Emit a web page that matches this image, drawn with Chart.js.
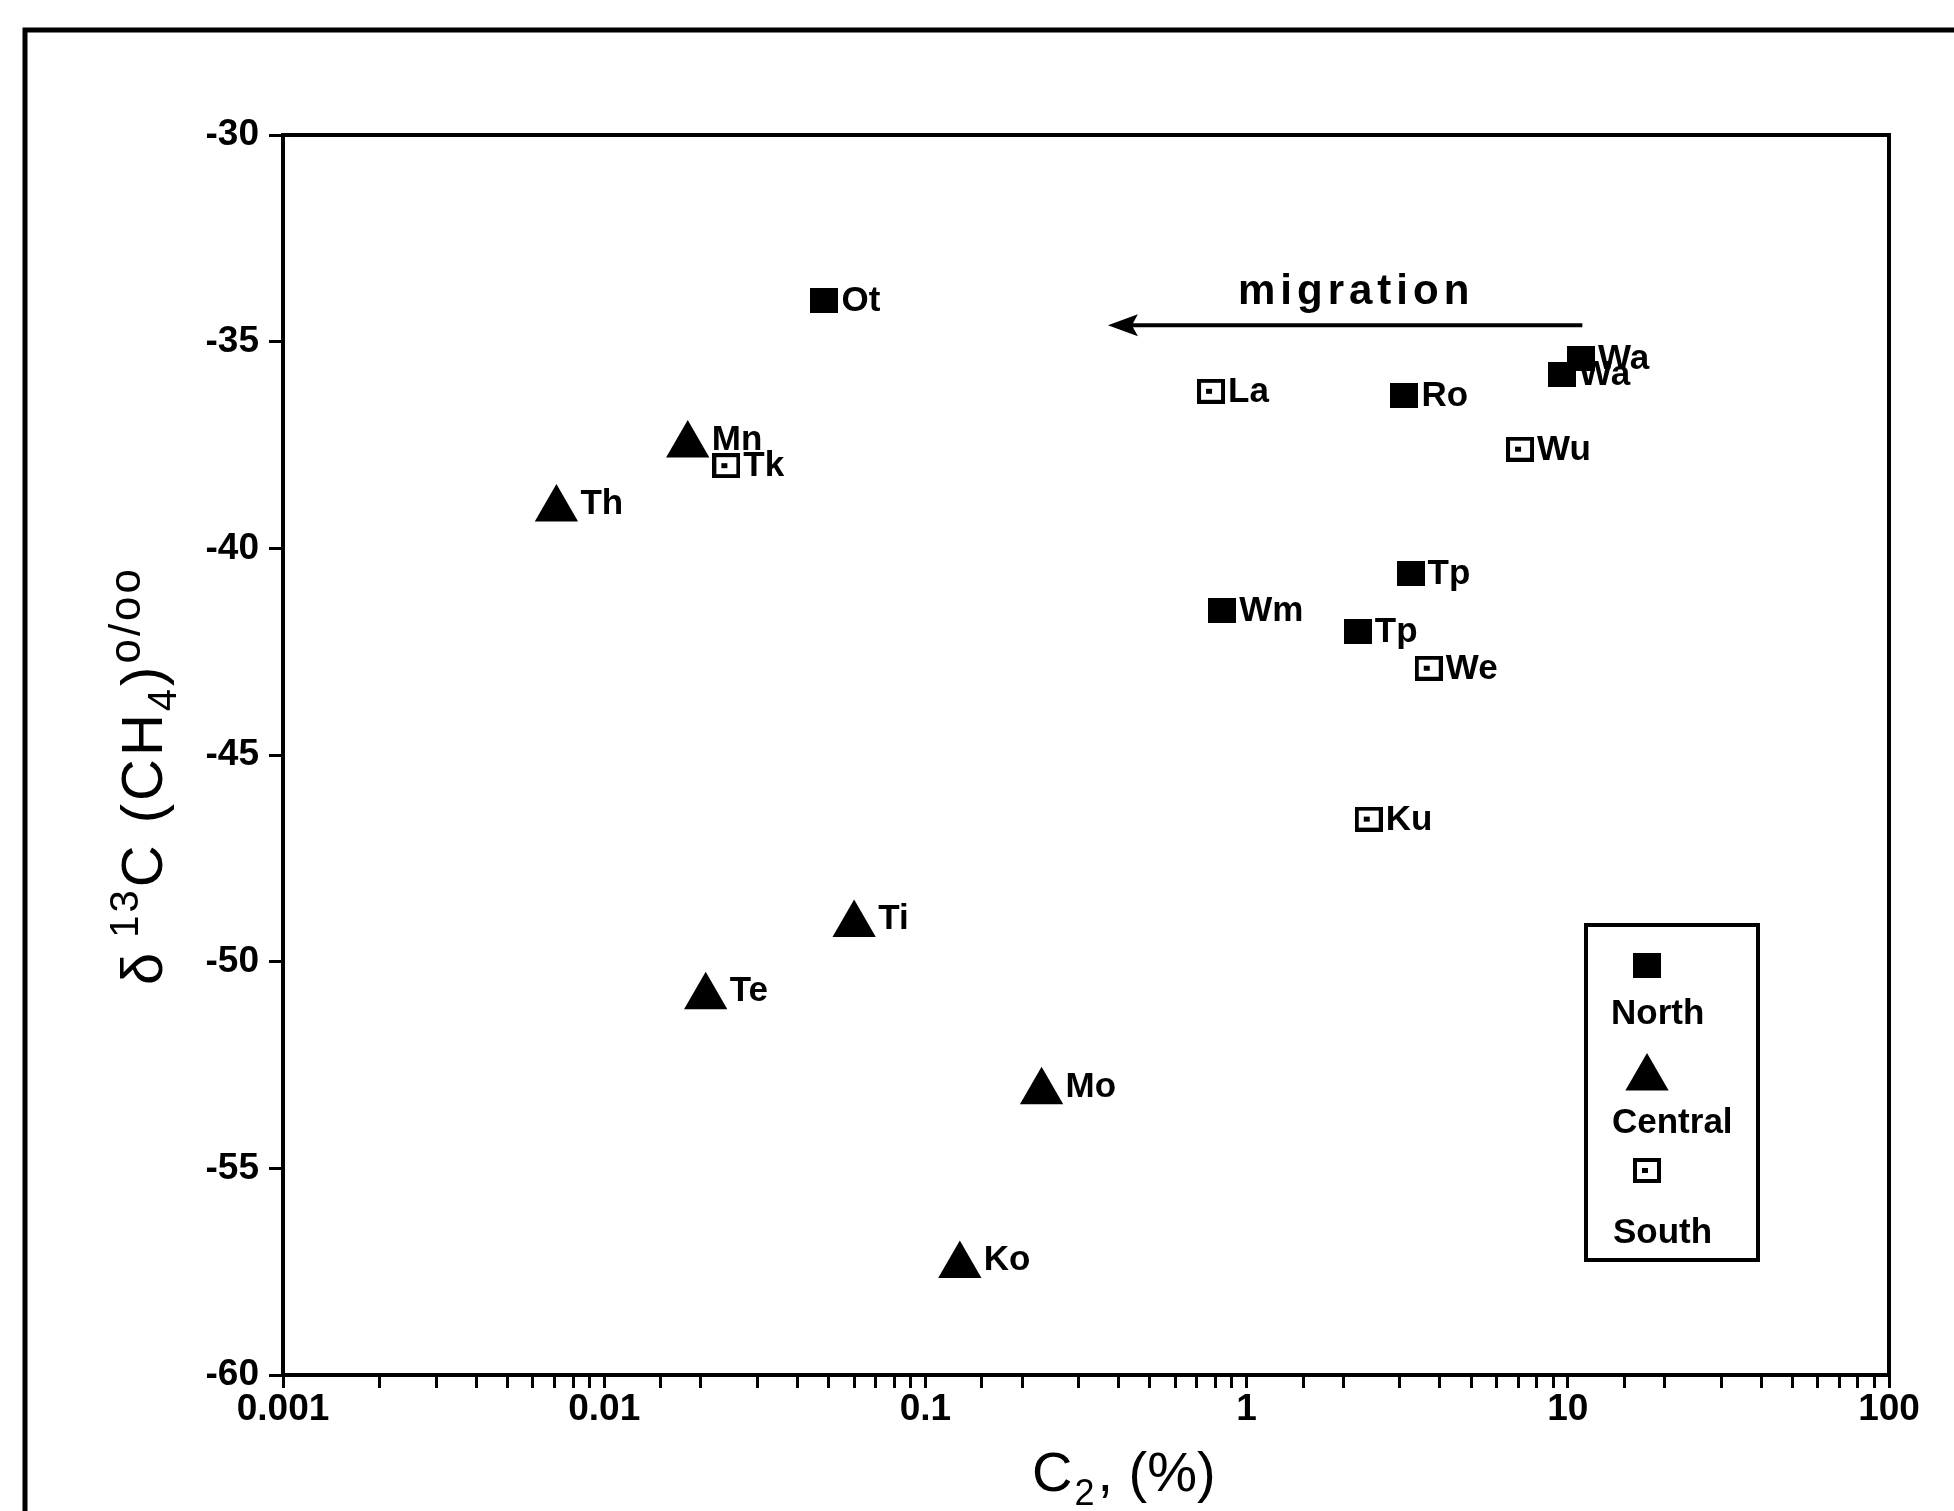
<!DOCTYPE html>
<html>
<head>
<meta charset="utf-8">
<script src="https://cdn.jsdelivr.net/npm/chart.js@4.4.1/dist/chart.umd.min.js"></script>
<style>
    html, body { margin: 0; padding: 0; background: #fff; }
    #wrap { width: 1954px; height: 1511px; position: relative; }
</style>
</head>
<body>
<div id="wrap"><canvas id="c2chart"></canvas></div>
<script>
// values (C2 in %, delta13C of CH4 in per mil)
const northNames = ['Ot', 'Wa', 'Wa', 'Ro', 'Tp', 'Wm', 'Tp'];
const northC2 = [0.0485, 11.0, 9.6, 3.1, 3.24, 0.84, 2.22];
const northD13C = [-34.0, -35.4, -35.8, -36.3, -40.6, -41.5, -42.0];

const centralNames = ['Mn', 'Th', 'Ti', 'Te', 'Mo', 'Ko'];
const centralC2 = [0.0182, 0.0071, 0.060, 0.0207, 0.230, 0.128];
const centralD13C = [-37.5, -39.05, -49.1, -50.85, -53.15, -57.35];

const southNames = ['La', 'Wu', 'Tk', 'We', 'Ku'];
const southC2 = [0.775, 7.1, 0.024, 3.69, 2.40];
const southD13C = [-36.2, -37.6, -38.0, -42.9, -46.55];

const xTickLabels = ['0.001', '0.01', '0.1', '1', '10', '100'];
const yTickValues = [-60, -55, -50, -45, -40, -35, -30];

// migration arrow, in data units
const migrationStart = { x: 11.1, y: -34.6 };
const migrationEnd = { x: 0.37, y: -34.6 };
const migrationLabel = { x: 0.94, y: -34.1, text: 'migration' };

const FONT = '"Liberation Sans", Arial, sans-serif';

function squareMarker(filled) {
    const c = document.createElement('canvas');
    c.width = 28;
    c.height = 25;
    const g = c.getContext('2d');
    if (filled) {
        g.fillStyle = '#000';
        g.fillRect(0, 0, 28, 25);
    } else {
        g.fillStyle = '#fff';
        g.fillRect(0, 0, 28, 25);
        g.strokeStyle = '#000';
        g.lineWidth = 4;
        g.strokeRect(2, 2, 24, 21);
        g.fillStyle = '#000';
        g.fillRect(9, 10, 6, 5);
    }
    return c;
}

const northMarker = squareMarker(true);
const southMarker = squareMarker(false);

function toPoints(xs, ys) {
    return xs.map((x, i) => ({ x: x, y: ys[i] }));
}

function drawTriangle(ctx, x, y, r) {
    ctx.beginPath();
    ctx.moveTo(x, y - r);
    ctx.lineTo(x + r * 0.866, y + r * 0.5);
    ctx.lineTo(x - r * 0.866, y + r * 0.5);
    ctx.closePath();
    ctx.fill();
}

const framePlugin = {
    id: 'frame',
    beforeDraw: (chart) => {
        const { ctx, width, height } = chart;
        ctx.save();
        ctx.fillStyle = '#fff';
        ctx.fillRect(0, 0, width, height);
        // outer frame of the scanned page
        ctx.strokeStyle = '#000';
        ctx.lineWidth = 5;
        ctx.beginPath();
        ctx.moveTo(25, height + 5);
        ctx.lineTo(25, 30);
        ctx.lineTo(width + 5, 30);
        ctx.stroke();
        ctx.restore();
    },
    afterDraw: (chart) => {
        const { ctx, chartArea } = chart;
        ctx.save();
        ctx.strokeStyle = '#000';
        ctx.lineWidth = 4;
        ctx.strokeRect(chartArea.left, chartArea.top, chartArea.right - chartArea.left, chartArea.bottom - chartArea.top);
        ctx.restore();
    },
};

const pointLabelPlugin = {
    id: 'pointLabels',
    afterDatasetsDraw: (chart) => {
        const { ctx } = chart;
        ctx.save();
        ctx.font = 'bold 35px ' + FONT;
        ctx.fillStyle = '#000';
        ctx.textBaseline = 'middle';
        ctx.textAlign = 'left';
        chart.data.datasets.forEach((dataset, di) => {
            const meta = chart.getDatasetMeta(di);
            const isTriangle = dataset.pointStyle === 'triangle';
            meta.data.forEach((pt, i) => {
                const dx = isTriangle ? 24 : 17;
                const dy = isTriangle ? -5 : 1;
                ctx.fillText(dataset.names[i], pt.x + dx, pt.y + dy);
            });
        });
        ctx.restore();
    },
};

const annotationPlugin = {
    id: 'migration',
    afterDatasetsDraw: (chart) => {
        const { ctx, scales } = chart;
        const x1 = scales.x.getPixelForValue(migrationStart.x);
        const y1 = scales.y.getPixelForValue(migrationStart.y);
        const x2 = scales.x.getPixelForValue(migrationEnd.x);
        const y2 = scales.y.getPixelForValue(migrationEnd.y);

        ctx.save();
        ctx.strokeStyle = '#000';
        ctx.fillStyle = '#000';
        ctx.lineWidth = 4;
        ctx.beginPath();
        ctx.moveTo(x1, y1);
        ctx.lineTo(x2 + 20, y2);
        ctx.stroke();
        // arrow head
        ctx.beginPath();
        ctx.moveTo(x2, y2);
        ctx.lineTo(x2 + 30, y2 - 11);
        ctx.lineTo(x2 + 24, y2);
        ctx.lineTo(x2 + 30, y2 + 11);
        ctx.closePath();
        ctx.fill();

        ctx.font = 'bold 42px ' + FONT;
        ctx.letterSpacing = '5px';
        ctx.textBaseline = 'alphabetic';
        ctx.fillText(migrationLabel.text, scales.x.getPixelForValue(migrationLabel.x), scales.y.getPixelForValue(migrationLabel.y));
        ctx.restore();
    },
};

const legendPlugin = {
    id: 'regionLegend',
    afterDraw: (chart) => {
        const { ctx, chartArea } = chart;
        const left = chartArea.right - 303;
        const top = chartArea.bottom - 450;
        const w = 172;
        const h = 335;

        ctx.save();
        ctx.fillStyle = '#fff';
        ctx.fillRect(left, top, w, h);
        ctx.strokeStyle = '#000';
        ctx.lineWidth = 4;
        ctx.strokeRect(left, top, w, h);

        ctx.fillStyle = '#000';
        ctx.drawImage(northMarker, left + 61 - 14, top + 40 - 12);
        drawTriangle(ctx, left + 61, top + 153, 25);
        ctx.drawImage(southMarker, left + 61 - 14, top + 245 - 12);

        ctx.font = 'bold 35px ' + FONT;
        ctx.textAlign = 'left';
        ctx.textBaseline = 'alphabetic';
        ctx.fillText('North', left + 25, top + 99);
        ctx.fillText('Central', left + 26, top + 208);
        ctx.fillText('South', left + 27, top + 318);
        ctx.restore();
    },
};

const axisTitlePlugin = {
    id: 'axisTitles',
    afterDraw: (chart) => {
        const { ctx } = chart;
        ctx.save();
        ctx.fillStyle = '#000';
        ctx.textBaseline = 'alphabetic';
        ctx.textAlign = 'left';

        // x title: C2, (%)
        let x = 1032;
        const base = 1491;
        ctx.font = '56px ' + FONT;
        ctx.fillText('C', x, base);
        x += ctx.measureText('C').width + 2;
        ctx.font = '36px ' + FONT;
        ctx.fillText('2', x, base + 14);
        x += ctx.measureText('2').width + 3;
        ctx.font = '56px ' + FONT;
        ctx.fillText(', (%)', x, base);

        // y title: delta 13C (CH4) o/oo, rotated
        ctx.translate(162, 985);
        ctx.rotate(-Math.PI / 2);
        ctx.letterSpacing = '3px';
        let pos = 0;
        const part = (txt, size, dy) => {
            ctx.font = size + 'px ' + FONT;
            ctx.fillText(txt, pos, dy);
            pos += ctx.measureText(txt).width;
        };
        part('\u03B4', 58, 0);
        pos += 12;
        part('13', 40, -24);
        part('C (CH', 58, 0);
        part('4', 40, 14);
        part(')', 58, 0);
        part('o/oo', 44, -22);
        ctx.restore();
    },
};

const tickFont = { family: FONT, size: 37, weight: 'bold' };

new Chart(document.getElementById('c2chart'), {
    type: 'scatter',
    data: {
        datasets: [
            {
                label: 'North',
                data: toPoints(northC2, northD13C),
                names: northNames,
                pointStyle: northMarker,
                pointRadius: 14,
                backgroundColor: '#000',
                borderColor: '#000',
            },
            {
                label: 'Central',
                data: toPoints(centralC2, centralD13C),
                names: centralNames,
                pointStyle: 'triangle',
                pointRadius: 25,
                borderWidth: 0,
                backgroundColor: '#000',
                borderColor: '#000',
            },
            {
                label: 'South',
                data: toPoints(southC2, southD13C),
                names: southNames,
                pointStyle: southMarker,
                pointRadius: 14,
                backgroundColor: '#fff',
                borderColor: '#000',
            },
        ],
    },
    options: {
        responsive: true,
        maintainAspectRatio: false,
        animation: false,
        events: [],
        layout: {
            padding: { top: 135, right: 65, left: 0, bottom: 0 },
        },
        plugins: {
            legend: { display: false },
            tooltip: { enabled: false },
        },
        scales: {
            x: {
                type: 'logarithmic',
                min: 0.001,
                max: 100,
                afterFit: (scale) => { scale.height = 136; },
                border: { display: false },
                grid: {
                    drawOnChartArea: false,
                    drawTicks: true,
                    tickLength: 13,
                    color: '#000',
                    lineWidth: 3,
                },
                ticks: {
                    autoSkip: false,
                    maxRotation: 0,
                    minRotation: 0,
                    padding: 0,
                    color: '#000',
                    font: tickFont,
                    callback: (value) => {
                        const e = Math.log10(value);
                        if (Math.abs(e - Math.round(e)) < 1e-6) {
                            return xTickLabels[Math.round(e) + 3];
                        }
                        return '';
                    },
                },
            },
            y: {
                type: 'linear',
                min: yTickValues[0],
                max: yTickValues[yTickValues.length - 1],
                afterFit: (scale) => { scale.width = 283; },
                afterBuildTicks: (scale) => {
                    scale.ticks = yTickValues.map((v) => ({ value: v }));
                },
                border: { display: false },
                grid: {
                    drawOnChartArea: false,
                    drawTicks: true,
                    tickLength: 14,
                    color: '#000',
                    lineWidth: 3,
                },
                ticks: {
                    padding: 10,
                    color: '#000',
                    font: tickFont,
                },
            },
        },
    },
    plugins: [framePlugin, pointLabelPlugin, annotationPlugin, legendPlugin, axisTitlePlugin],
});
</script>
</body>
</html>
